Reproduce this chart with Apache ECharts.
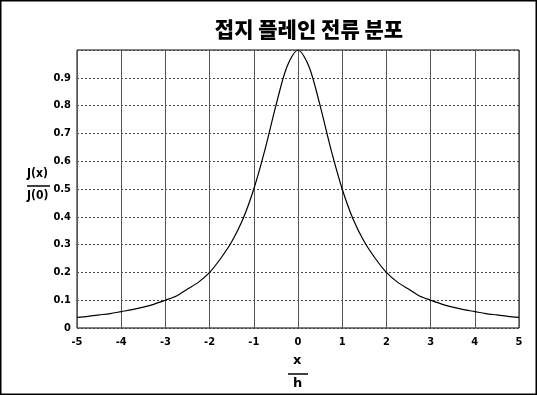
<!DOCTYPE html>
<html>
<head>
<meta charset="utf-8">
<script src="https://cdn.jsdelivr.net/npm/echarts@6/dist/echarts.min.js"></script>
<style>
html,body{margin:0;padding:0;background:#fff;}
#c{width:537px;height:395px;}
</style>
</head>
<body>
<div id="c"></div>
<script>
const titleText = '접지 플레인 전류 분포';
const xTicks = [-5, -4, -3, -2, -1, 0, 1, 2, 3, 4, 5];
const yTicks = [0, 0.1, 0.2, 0.3, 0.4, 0.5, 0.6, 0.7, 0.8, 0.9];
const xValues = [-5, -4.75, -4.5, -4.25, -4, -3.75, -3.5, -3.25, -3, -2.75, -2.5, -2.25, -2, -1.75, -1.5, -1.25, -1, -0.75, -0.5, -0.25,
  0, 0.25, 0.5, 0.75, 1, 1.25, 1.5, 1.75, 2, 2.25, 2.5, 2.75, 3, 3.25, 3.5, 3.75, 4, 4.25, 4.5, 4.75, 5];
const currentRatio = [0.038, 0.042, 0.047, 0.052, 0.059, 0.066, 0.075, 0.086, 0.10, 0.115, 0.14, 0.165, 0.20, 0.25, 0.31, 0.39, 0.50, 0.64, 0.80, 0.94,
  1.00, 0.94, 0.80, 0.64, 0.50, 0.39, 0.31, 0.25, 0.20, 0.165, 0.14, 0.115, 0.10, 0.086, 0.075, 0.066, 0.059, 0.052, 0.047, 0.042, 0.038];

const chart = echarts.init(document.getElementById('c'), null, {renderer: 'canvas'});
const narrow = '"DejaVu Sans Condensed", "Liberation Sans Narrow", "DejaVu Sans", sans-serif';
const lblFont = {color: '#000', fontWeight: 'bold', fontSize: 11, fontFamily: narrow};
chart.setOption({
  backgroundColor: '#fff',
  animation: false,
  title: {
    text: titleText,
    left: 304, top: 14, textAlign: 'center',
    textStyle: {color: '#000', fontWeight: 900, fontSize: 21, fontFamily: 'Noto Sans CJK KR'}
  },
  grid: {left: 77, right: 18, top: 50, bottom: 67, show: true, backgroundColor: '#fff', borderColor: '#000', borderWidth: 1},
  xAxis: {
    type: 'value', min: -5, max: 5, interval: 1,
    axisLine: {show: false}, axisTick: {show: false},
    axisLabel: Object.assign({margin: 9, formatter: v => String(v)}, lblFont),
    splitLine: {show: true, lineStyle: {color: '#555', width: 1, type: 'solid'}}
  },
  yAxis: {
    type: 'value', min: 0, max: 1, interval: 0.1,
    axisLine: {show: false}, axisTick: {show: false},
    axisLabel: Object.assign({margin: 6, showMaxLabel: false, formatter: v => (Math.round(v * 10) / 10).toString()}, lblFont),
    splitLine: {show: true, lineStyle: {color: '#444', width: 1, type: [2, 2]}}
  },
  series: [{
    type: 'line',
    data: xValues.map((x, i) => [x, currentRatio[i]]),
    showSymbol: false,
    smooth: 0.3,
    lineStyle: {color: '#000', width: 1.2}
  }],
  graphic: [
    {type: 'rect', shape: {x: 0.5, y: 0.5, width: 536, height: 394}, style: {fill: null, stroke: '#000', lineWidth: 2}, silent: true},
    {type: 'text', left: 27, top: 168, style: {text: 'J(x)', fill: '#000', font: 'bold 12px ' + narrow}},
    {type: 'line', shape: {x1: 27, y1: 186, x2: 50, y2: 186}, style: {stroke: '#000', lineWidth: 1.5}},
    {type: 'text', left: 27, top: 190, style: {text: 'J(0)', fill: '#000', font: 'bold 12px ' + narrow}},
    {type: 'text', left: 293, top: 354, style: {text: 'x', fill: '#000', font: 'bold 13px DejaVu Sans'}},
    {type: 'line', shape: {x1: 288, y1: 374, x2: 308, y2: 374}, style: {stroke: '#000', lineWidth: 1.5}},
    {type: 'text', left: 293, top: 377, style: {text: 'h', fill: '#000', font: 'bold 13px DejaVu Sans'}}
  ]
});
</script>
</body>
</html>
